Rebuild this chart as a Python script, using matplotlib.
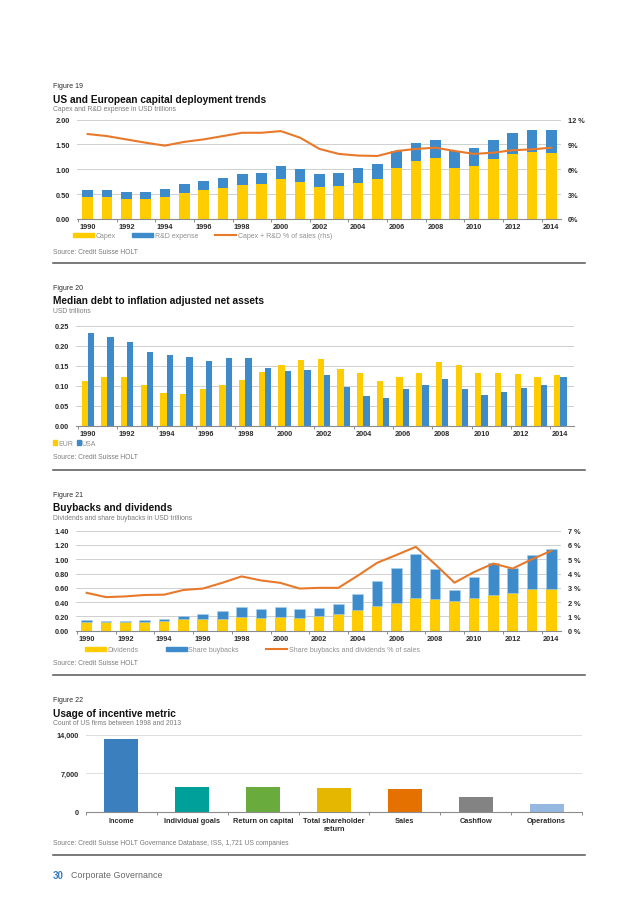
import numpy as np
import matplotlib
import matplotlib.pyplot as plt
from matplotlib.patches import Patch
from matplotlib.lines import Line2D

matplotlib.use("Agg")
plt.rcParams['font.family'] = ['Liberation Sans', 'DejaVu Sans']

# ---- data -------------------------------------------------------------
years = list(range(1990, 2015))

# Figure 19: capex and R&D (USD trillions), capex + R&D % of sales
capex = [0.45, 0.45, 0.41, 0.40, 0.45, 0.52, 0.58, 0.63, 0.69, 0.71, 0.81, 0.75, 0.65,
         0.67, 0.73, 0.81, 1.02, 1.16, 1.23, 1.02, 1.06, 1.21, 1.30, 1.35, 1.33]
rnd = [0.13, 0.13, 0.14, 0.14, 0.15, 0.18, 0.19, 0.19, 0.22, 0.22, 0.25, 0.25, 0.26,
       0.26, 0.30, 0.29, 0.34, 0.36, 0.36, 0.35, 0.37, 0.38, 0.42, 0.43, 0.45]
capex_rnd_pct = [10.25, 10.0, 9.6, 9.2, 8.85, 9.3, 9.6, 10.0, 10.4, 10.4, 10.6, 9.8, 8.45,
                 7.85, 7.65, 7.6, 8.2, 8.45, 8.6, 8.2, 7.85, 8.0, 8.3, 8.4, 8.6]

# Figure 20: median debt to inflation adjusted net assets
eur_debt = [0.112, 0.123, 0.123, 0.102, 0.081, 0.079, 0.093, 0.102, 0.115, 0.135, 0.152,
            0.164, 0.168, 0.143, 0.132, 0.112, 0.122, 0.132, 0.159, 0.151, 0.131, 0.132,
            0.129, 0.123, 0.126]
usa_debt = [0.231, 0.223, 0.209, 0.185, 0.177, 0.171, 0.161, 0.169, 0.169, 0.145, 0.137,
            0.139, 0.126, 0.096, 0.075, 0.070, 0.092, 0.102, 0.116, 0.091, 0.076, 0.084,
            0.094, 0.101, 0.123]

# Figure 21: dividends and buybacks (USD trillions), payout % of sales
dividends = [0.12, 0.12, 0.12, 0.12, 0.14, 0.16, 0.16, 0.17, 0.19, 0.18, 0.19, 0.18, 0.20,
             0.24, 0.29, 0.35, 0.39, 0.46, 0.44, 0.42, 0.46, 0.50, 0.53, 0.58, 0.59]
buybacks = [0.03, 0.02, 0.02, 0.03, 0.03, 0.05, 0.07, 0.10, 0.14, 0.13, 0.14, 0.12, 0.12,
            0.13, 0.23, 0.34, 0.49, 0.61, 0.43, 0.15, 0.29, 0.45, 0.35, 0.48, 0.56]
payout_pct = [2.65, 2.35, 2.4, 2.5, 2.52, 2.85, 2.95, 3.35, 3.8, 3.52, 3.35, 2.95, 3.0,
              3.0, 3.85, 4.75, 5.3, 5.87, 4.65, 3.36, 4.1, 4.7, 4.35, 5.0, 5.6]

# Figure 22: usage of incentive metric
metrics = ["Income", "Individual goals", "Return on capital", "Total shareholder\nreturn",
           "Sales", "Cashflow", "Operations"]
metric_counts = [13300, 4450, 4450, 4250, 4200, 2650, 1350]
metric_colors = ["#3b7fbf", "#00a09a", "#6aab3e", "#e6b700", "#e57200", "#838383", "#94b8e0"]

YELLOW = "#ffcc00"
BLUE = "#3d8bcb"
ORANGE = "#e8792b"
GRID = "#cfcfcf"
AXIS = "#8c8c8c"
DARK = "#2b2b2b"
GREY = "#7a7a7a"

W, H = 638, 903
fig = plt.figure(figsize=(W / 100, H / 100), dpi=100)


def fx(x):
    return x / W


def fy(y):
    return 1 - y / H


def axes_px(left, top, right, bottom):
    return fig.add_axes([fx(left), fy(bottom), (right - left) / W, (bottom - top) / H])


def header(y0, num, title, subtitle):
    fig.text(fx(53), fy(y0), f"Figure {num}", fontsize=5, color=DARK, va="center")
    fig.text(fx(53), fy(y0 + 13), title, fontsize=7.3, color="#111111",
             fontweight="bold", va="center")
    fig.text(fx(53), fy(y0 + 23), subtitle, fontsize=4.9, color=GREY, va="center")


def footer_line(y):
    fig.add_artist(Line2D([fx(53), fx(585)], [fy(y), fy(y)], color="#555555", lw=1.1))


def source(y, text):
    fig.text(fx(53), fy(y), text, fontsize=4.9, color=GREY, va="center")


def style_axes(ax, ymax, ystep, fmt):
    for s in ["top", "right", "left"]:
        ax.spines[s].set_visible(False)
    ax.spines["bottom"].set_color(AXIS)
    ax.spines["bottom"].set_linewidth(0.8)
    ax.set_ylim(0, ymax)
    ticks = np.arange(0, ymax + ystep / 2, ystep)
    ax.set_yticks(ticks, [fmt(t) for t in ticks], fontweight="bold")
    ax.yaxis.grid(True, color=GRID, lw=0.7)
    ax.set_axisbelow(True)
    ax.tick_params(axis="y", length=0, labelsize=5.3, colors=DARK, pad=5)


def year_axis(ax, n):
    ax.set_xlim(-0.55, n - 0.5)
    ax.set_xticks(np.arange(0, n, 2), [str(y) for y in years[::2]], fontweight="bold")
    ax.set_xticks(np.arange(-0.5, n - 1, 2), minor=True)
    ax.tick_params(axis="x", which="major", length=0, labelsize=5.3, colors=DARK, pad=3)
    ax.tick_params(axis="x", which="minor", length=2.5, width=0.7, color=AXIS)


def right_axis(ax, ymax, ystep, labels):
    ax2 = ax.twinx()
    for s in ax2.spines.values():
        s.set_visible(False)
    ax2.set_ylim(0, ymax)
    ax2.set_yticks(np.arange(0, ymax + ystep / 2, ystep), labels, fontweight="bold")
    ax2.tick_params(axis="y", length=0, labelsize=5.3, colors=DARK, pad=5)
    return ax2


x = np.arange(len(years))

# ---- Figure 19 --------------------------------------------------------
header(86.7, 19, "US and European capital deployment trends",
       "Capex and R&D expense in USD trillions")
ax = axes_px(77, 120.5, 561, 220)
style_axes(ax, 2.0, 0.5, lambda v: f"{v:.2f}")
year_axis(ax, len(years))
ax.bar(x, capex, width=0.55, color=YELLOW, zorder=2)
ax.bar(x, rnd, width=0.55, bottom=capex, color=BLUE, zorder=2)
ax2 = right_axis(ax, 12, 3, ["0%", "3%", "6%", "9%", "12 %"])
ax2.plot(x, capex_rnd_pct, color=ORANGE, lw=1.5, zorder=3)
leg = fig.legend([Patch(color=YELLOW), Patch(color=BLUE), Line2D([], [], color=ORANGE, lw=1.5)],
                 ["Capex", "R&D expense", "Capex + R&D % of sales (rhs)"],
                 loc="center left", bbox_to_anchor=(fx(73), fy(237)), ncol=3, frameon=False,
                 fontsize=5, handlelength=3.0, handleheight=0.55, handletextpad=0.25,
                 columnspacing=2.4, borderpad=0, borderaxespad=0)
for t in leg.get_texts():
    t.set_color("#909090")
source(252, "Source: Credit Suisse HOLT")
footer_line(264)

# ---- Figure 20 --------------------------------------------------------
header(288.5, 20, "Median debt to inflation adjusted net assets", "USD trillions")
ax = axes_px(76, 326.7, 574, 426.7)
style_axes(ax, 0.25, 0.05, lambda v: f"{v:.2f}")
year_axis(ax, len(years))
ax.set_xlim(-0.6, len(years) - 0.3)
ax.bar(x - 0.16, eur_debt, width=0.32, color=YELLOW, zorder=2)
ax.bar(x + 0.16, usa_debt, width=0.32, color=BLUE, zorder=2)
leg = fig.legend([Patch(color=YELLOW), Patch(color=BLUE)], ["EUR", "USA"],
                 loc="center left", bbox_to_anchor=(fx(53), fy(444.5)), ncol=2, frameon=False,
                 fontsize=5, handlelength=0.6, handleheight=0.6, handletextpad=0.15,
                 columnspacing=0.5, borderpad=0, borderaxespad=0)
for t in leg.get_texts():
    t.set_color("#909090")
source(457.7, "Source: Credit Suisse HOLT")
footer_line(471)

# ---- Figure 21 --------------------------------------------------------
header(495.5, 21, "Buybacks and dividends", "Dividends and share buybacks in USD trillions")
ax = axes_px(76, 531.7, 561, 631.7)
style_axes(ax, 1.4, 0.2, lambda v: f"{v:.2f}")
year_axis(ax, len(years))
ax.bar(x, dividends, width=0.55, color=YELLOW, zorder=2)
ax.bar(x, buybacks, width=0.55, bottom=dividends, color=BLUE, edgecolor="#a9d3f2",
       linewidth=0.4, zorder=2)
ax2 = right_axis(ax, 7, 1, [f"{v} %" for v in range(8)])
ax2.plot(x, payout_pct, color=ORANGE, lw=1.5, zorder=3)
leg = fig.legend([Patch(color=YELLOW), Patch(color=BLUE), Line2D([], [], color=ORANGE, lw=1.5)],
                 ["Dividends", "Share buybacks", "Share buybacks and dividends % of sales"],
                 loc="center left", bbox_to_anchor=(fx(85), fy(650.7)), ncol=3, frameon=False,
                 fontsize=5, handlelength=3.0, handleheight=0.55, handletextpad=0.25,
                 columnspacing=3.9, borderpad=0, borderaxespad=0)
for t in leg.get_texts():
    t.set_color("#909090")
source(663.3, "Source: Credit Suisse HOLT")
footer_line(676)

# ---- Figure 22 --------------------------------------------------------
header(700.7, 22, "Usage of incentive metric", "Count of US firms between 1998 and 2013")
ax = axes_px(86, 735.7, 582, 812.7)
style_axes(ax, 14000, 7000, lambda v: f"{int(v):,}")
ax.yaxis.grid(True, color="#dddddd", lw=0.7)
xm = np.arange(len(metrics))
ax.bar(xm, metric_counts, width=0.48, color=metric_colors, zorder=2)
ax.set_xlim(-0.5, len(metrics) - 0.5)
ax.set_xticks(xm, metrics, fontweight="bold")
ax.set_xticks(np.arange(-0.5, len(metrics), 1), minor=True)
ax.tick_params(axis="x", which="major", length=0, labelsize=5.3, colors=DARK, pad=4)
ax.tick_params(axis="x", which="minor", length=2.5, width=0.7, color=AXIS)
source(843.5, "Source: Credit Suisse HOLT Governance Database, ISS, 1,721 US companies")
footer_line(856)

# ---- page footer ------------------------------------------------------
fig.text(fx(53), fy(876), "30", fontsize=7, color="#3a7dc0", fontweight="bold", va="center")
fig.text(fx(71), fy(876), "Corporate Governance", fontsize=6.4, color="#666666", va="center")

fig.savefig("out.png", dpi=100)
